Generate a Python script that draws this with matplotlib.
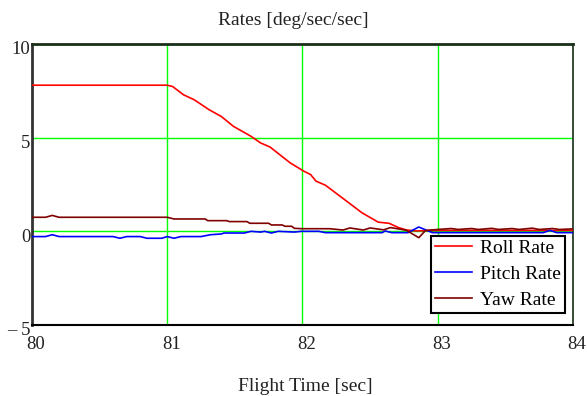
import matplotlib
matplotlib.use("Agg")
import matplotlib.pyplot as plt
import matplotlib.transforms as mtransforms

plt.rcParams['font.family'] = ['Liberation Serif', 'DejaVu Serif']

# roll rate samples
roll_t = [80.0, 81.0, 81.04, 81.12, 81.2, 81.31, 81.4, 81.49, 81.62, 81.69, 81.76, 81.91,
          82.01, 82.06, 82.1, 82.17, 82.31, 82.44, 82.56, 82.64, 82.71, 82.77, 82.84, 83.0, 84.0]
roll = [7.8, 7.8, 7.73, 7.29, 7.02, 6.49, 6.13, 5.6, 5.07, 4.72, 4.5, 3.65,
        3.21, 3.03, 2.68, 2.46, 1.7, 0.99, 0.49, 0.43, 0.2, 0.07, 0.02, 0.05, 0.05]

# pitch rate samples
pitch_t = [80.0, 80.1, 80.15, 80.2, 80.6, 80.65, 80.7, 80.8, 80.85, 80.96, 81.0, 81.05, 81.1,
           81.25, 81.32, 81.4, 81.42, 81.57, 81.62, 81.69, 81.72, 81.77, 81.82, 81.94, 81.99,
           82.12, 82.17, 82.59, 82.61, 82.66, 82.78, 82.86, 82.96, 83.5, 83.78, 83.83, 83.88, 84.0]
pitch = [-0.28, -0.28, -0.18, -0.28, -0.28, -0.37, -0.28, -0.28, -0.37, -0.37, -0.28, -0.37, -0.28,
         -0.28, -0.18, -0.14, -0.09, -0.09, 0.0, -0.04, 0.0, -0.09, 0.0, -0.04, 0.0,
         0.0, -0.07, -0.07, 0.02, -0.07, -0.07, 0.23, -0.07, -0.07, -0.07, 0.05, -0.07, -0.07]

# yaw rate samples
yaw_t = [80.0, 80.1, 80.15, 80.2, 81.0, 81.05, 81.28, 81.3, 81.44, 81.46, 81.59, 81.61, 81.75,
         81.77, 81.85, 81.87, 81.92, 81.94, 82.0, 82.2, 82.3, 82.35, 82.45, 82.5, 82.6, 82.65,
         82.71, 82.77, 82.86, 82.91, 83.0, 83.1, 83.15, 83.25, 83.3, 83.4, 83.45, 83.55, 83.6,
         83.7, 83.75, 83.85, 83.9, 84.0]
yaw = [0.75, 0.75, 0.85, 0.75, 0.75, 0.66, 0.66, 0.57, 0.57, 0.52, 0.52, 0.43, 0.43,
       0.34, 0.34, 0.27, 0.27, 0.16, 0.14, 0.14, 0.07, 0.18, 0.07, 0.18, 0.08, 0.2,
       0.13, 0.05, -0.34, 0.05, 0.1, 0.15, 0.1, 0.15, 0.1, 0.16, 0.1, 0.15, 0.1,
       0.17, 0.1, 0.15, 0.1, 0.13]

x_ticks = [80, 81, 82, 83, 84]
y_ticks = [-5, 0, 5, 10]
y_tick_labels = ["\u2013 5", "0", "5", "10"]

fig = plt.figure(figsize=(5.87, 3.96), dpi=100)
ax = fig.add_axes([0.0545, 0.1793, 0.9216, 0.7096])

ax.plot(roll_t, roll, color='#ff0000', lw=1.2, label='Roll Rate', zorder=3)
ax.plot(pitch_t, pitch, color='#0000ff', lw=1.2, label='Pitch Rate', zorder=3)
ax.plot(yaw_t, yaw, color='#800000', lw=1.2, label='Yaw Rate', zorder=3)

ax.set_xlim(80, 84)
ax.set_ylim(-5, 10)
ax.set_xticks(x_ticks)
ax.set_yticks(y_ticks)
ax.set_yticklabels(y_tick_labels)
ax.grid(True, color='#00ff00', lw=1.0)
ax.set_axisbelow(True)
ax.tick_params(length=0, labelsize=13.5, colors='#222222')
ax.tick_params(axis='x', pad=8)
ax.tick_params(axis='y', pad=1)

# nudge tick labels like the original
for lab in ax.get_xticklabels():
    lab.set_transform(lab.get_transform() + mtransforms.ScaledTranslation(4 / 100, 0, fig.dpi_scale_trans))
for lab in ax.get_yticklabels():
    lab.set_transform(lab.get_transform() + mtransforms.ScaledTranslation(0, -4 / 100, fig.dpi_scale_trans))

ax.spines['left'].set_color('#333333')
ax.spines['left'].set_linewidth(2.0)
ax.spines['top'].set_color('#1a2e1a')
ax.spines['top'].set_linewidth(2.0)
ax.spines['right'].set_color('#1a2e1a')
ax.spines['right'].set_linewidth(1.2)
ax.spines['bottom'].set_color('#000000')
ax.spines['bottom'].set_linewidth(1.5)

leg = ax.legend(loc='upper right', bbox_to_anchor=(0.985, 0.318), fontsize=14,
                fancybox=False, framealpha=1, edgecolor='#000000', borderpad=0.2,
                handlelength=1.9, handletextpad=0.4, labelspacing=0.42, borderaxespad=0)
leg.get_frame().set_linewidth(1.5)

fig.text(0.5, 0.947, 'Rates [deg/sec/sec]', ha='center', va='center', fontsize=14, color='#222222')
fig.text(0.52, 0.025, 'Flight Time [sec]', ha='center', va='center', fontsize=14, color='#222222')

fig.savefig('out.png', dpi=100)
